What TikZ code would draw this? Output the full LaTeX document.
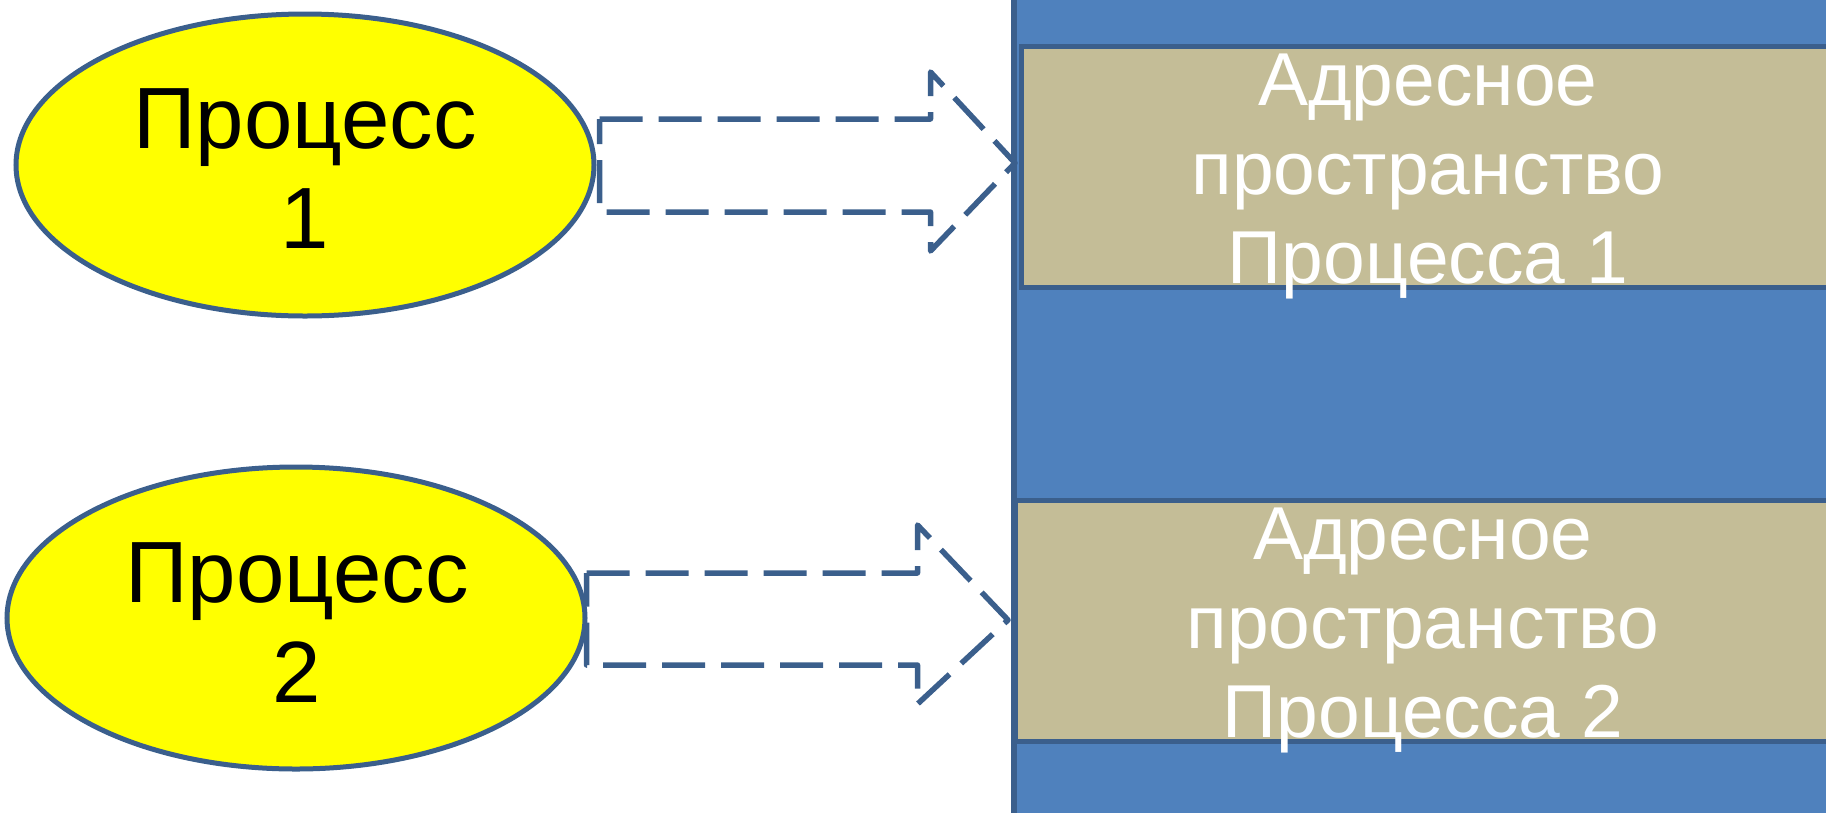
\documentclass[tikz,border=0pt]{standalone}
\usepackage{fontspec}
\setmainfont{Liberation Sans}
\usetikzlibrary{shapes.geometric,calc}
\definecolor{edgeblue}{HTML}{3B5F8C}
\definecolor{panelblue}{HTML}{4F81BD}
\definecolor{tan}{HTML}{C4BD97}
\definecolor{procyellow}{RGB}{255,255,0}
\begin{document}
\begin{tikzpicture}[x=1pt,y=-1pt,
  proc/.style={ellipse, draw=edgeblue, fill=procyellow, line width=5pt, inner sep=0pt, minimum width=578pt, minimum height=302pt},
  proctext/.style={align=center, inner sep=0pt, font=\fontsize{87}{100}\selectfont, text=black},
  panel/.style={rectangle, draw=edgeblue, fill=panelblue, line width=6pt, inner sep=0pt, minimum width=840pt, minimum height=880pt},
  space/.style={rectangle, draw=edgeblue, fill=tan, line width=5pt, inner sep=0pt, minimum width=816pt, minimum height=241pt},
  spacetext/.style={align=center, inner sep=0pt, font=\fontsize{75}{89}\selectfont, text=white},
  blockarrow/.style={draw=edgeblue, line width=5.5pt, dash pattern=on 43pt off 16pt, line join=round}
]
\useasboundingbox (0,0) rectangle (1826,812);
\clip (0,0) rectangle (1826,812);
% memory panel
\node[panel, anchor=west] (mem) at (1011,406) {};
\node[space, anchor=north west] (s1) at (1019,44) {};
\node[space, anchor=north west] (s2) at (1013,498) {};
\node[spacetext, anchor=base] (t1) at (1428,283) {Адресное\\пространство\\Процесса 1};
\node[spacetext, anchor=base] (t2) at (1423,737) {Адресное\\пространство\\Процесса 2};
% processes
\node[proc] (p1) at (305,165) {};
\node[proc] (p2) at (296,618) {};
\node[proctext, anchor=base] (l1) at (305,248) {Процесс\\1};
\node[proctext, anchor=base] (l2) at (297,702) {Процесс\\2};
% block arrows
\draw[blockarrow] ($(p1.east)+(3,-46)$) -- ($(p1.east)+(334,-46)$) -- ($(p1.east)+(334,-93)$)
  -- ($(mem.west |- p1.east)+(4,-2)$) -- ($(p1.east)+(334,86)$) -- ($(p1.east)+(334,47)$)
  -- ($(p1.east)+(3,47)$) -- cycle;
\draw[blockarrow] ($(p2.east)+(-1,-45)$) -- ($(p2.east)+(330,-45)$) -- ($(p2.east)+(330,-93)$)
  -- ($(mem.west |- p2.east)+(-3,2)$) -- ($(p2.east)+(330,86)$) -- ($(p2.east)+(330,47)$)
  -- ($(p2.east)+(-1,47)$) -- cycle;
\end{tikzpicture}
\end{document}
